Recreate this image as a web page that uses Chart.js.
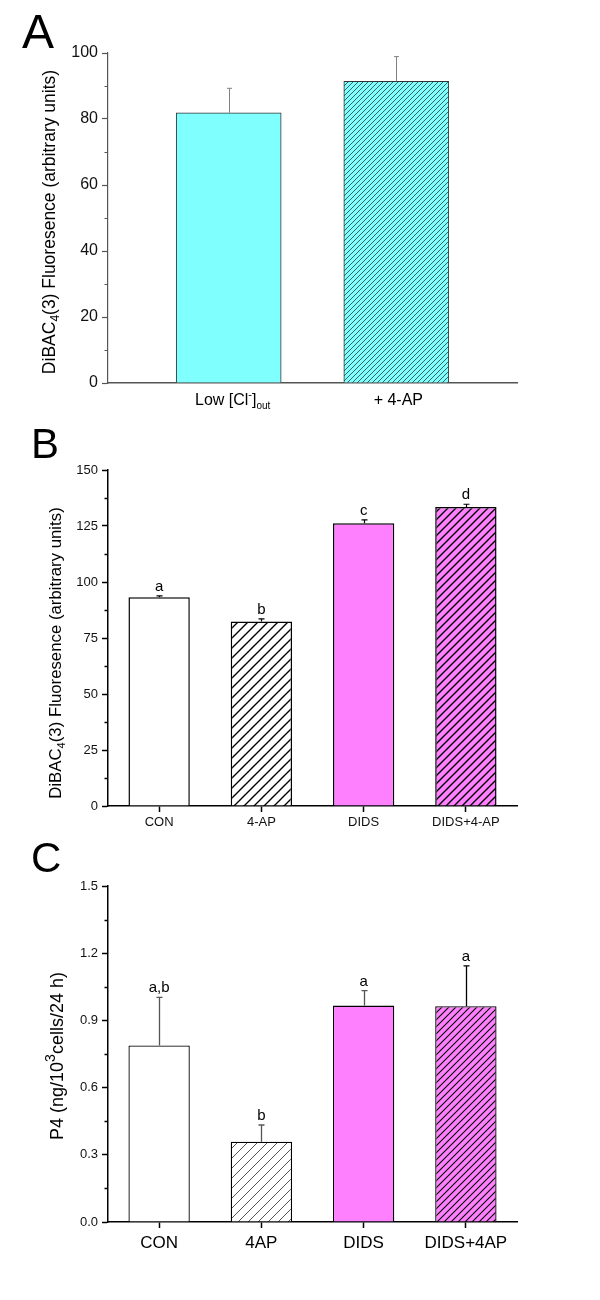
<!DOCTYPE html>
<html>
<head>
<meta charset="utf-8">
<script src="https://cdn.jsdelivr.net/npm/chart.js@4.4.1/dist/chart.umd.min.js"></script>
<style>
  body { margin: 0; background: #fff; width: 600px; height: 1300px; position: relative; overflow: hidden; }
  canvas { position: absolute; left: 0; }
</style>
</head>
<body>
<canvas id="chartA" width="600" height="420" style="top:0px"></canvas>
<canvas id="chartB" width="600" height="420" style="top:420px"></canvas>
<canvas id="chartC" width="600" height="460" style="top:840px"></canvas>
<script>
const FONT = "'Liberation Sans', Arial, sans-serif";
Chart.defaults.font.family = FONT;
Chart.defaults.animation = false;

// panel A : membrane potential, low chloride
const aLabels = ["Low [Cl-]out", "+ 4-AP"];
const aValues = [81.9, 91.4];
const aErrors = [7.4, 7.5];
const aTicks = [0, 20, 40, 60, 80, 100];

// panel B : DiBAC4(3) fluorescence
const bLabels = ["CON", "4-AP", "DIDS", "DIDS+4-AP"];
const bValues = [93.2, 82.4, 126.2, 133.5];
const bErrors = [0.6, 1.1, 1.5, 1.2];
const bLetters = ["a", "b", "c", "d"];
const bTicks = [0, 25, 50, 75, 100, 125, 150];

// panel C : P4 production
const cLabels = ["CON", "4AP", "DIDS", "DIDS+4AP"];
const cValues = [0.788, 0.358, 0.966, 0.963];
const cErrors = [0.215, 0.075, 0.067, 0.18];
const cLetters = ["a,b", "b", "a", "a"];
const cTicks = [0, 0.3, 0.6, 0.9, 1.2, 1.5];

const cyan = "#80ffff";
const pink = "#ff80ff";

function fontStr(size) {
  return size + "px " + FONT;
}

// diagonal "/" hatch fill
function hatch(bg, line, gap, width) {
  const c = document.createElement("canvas");
  c.width = gap;
  c.height = gap;
  const g = c.getContext("2d");
  g.fillStyle = bg;
  g.fillRect(0, 0, gap, gap);
  g.strokeStyle = line;
  g.lineWidth = width;
  g.beginPath();
  g.moveTo(-gap, gap * 2); g.lineTo(gap * 2, -gap);
  g.moveTo(-gap, gap); g.lineTo(gap, -gap);
  g.moveTo(0, gap * 2); g.lineTo(gap * 2, 0);
  g.stroke();
  return g.createPattern(c, "repeat");
}

// text built from pieces (sub / superscripts), centred on x, baseline y
function richText(ctx, parts, x, y, angle) {
  ctx.save();
  ctx.translate(x, y);
  ctx.rotate(angle || 0);
  ctx.fillStyle = "#000";
  ctx.textAlign = "left";
  ctx.textBaseline = "alphabetic";
  let total = 0;
  parts.forEach((p) => {
    ctx.font = fontStr(p.size);
    p.w = ctx.measureText(p.t).width;
    total += p.w;
  });
  let cx = -total / 2;
  parts.forEach((p) => {
    ctx.font = fontStr(p.size);
    ctx.fillText(p.t, cx, p.dy || 0);
    cx += p.w;
  });
  ctx.restore();
}

function valueOf(d) {
  return typeof d === "object" ? d.y : d;
}

function errorBars(chart, errors, colors, cap, width) {
  const ctx = chart.ctx;
  const ys = chart.scales.y;
  const data = chart.data.datasets[0].data;
  ctx.save();
  ctx.lineWidth = width;
  chart.getDatasetMeta(0).data.forEach((bar, i) => {
    const top = ys.getPixelForValue(valueOf(data[i]) + errors[i]);
    const x = Math.round(bar.x) + 0.5;
    ctx.strokeStyle = colors[i];
    ctx.beginPath();
    ctx.moveTo(x, bar.y);
    ctx.lineTo(x, top);
    ctx.moveTo(x - cap, top);
    ctx.lineTo(x + cap, top);
    ctx.stroke();
  });
  ctx.restore();
}

function letters(chart, errors, marks, size) {
  const ctx = chart.ctx;
  const ys = chart.scales.y;
  const data = chart.data.datasets[0].data;
  ctx.save();
  ctx.fillStyle = "#000";
  ctx.font = fontStr(size);
  ctx.textAlign = "center";
  ctx.textBaseline = "alphabetic";
  chart.getDatasetMeta(0).data.forEach((bar, i) => {
    const top = ys.getPixelForValue(valueOf(data[i]) + errors[i]);
    ctx.fillText(marks[i], bar.x, top - 5);
  });
  ctx.restore();
}

function minorTicks(chart, ticks, len, color, width) {
  const ctx = chart.ctx;
  const ys = chart.scales.y;
  const x0 = chart.chartArea.left;
  ctx.save();
  ctx.strokeStyle = color;
  ctx.lineWidth = width;
  ctx.beginPath();
  for (let i = 0; i < ticks.length - 1; i++) {
    const y = Math.round(ys.getPixelForValue((ticks[i] + ticks[i + 1]) / 2)) + 0.5;
    ctx.moveTo(x0 - len, y);
    ctx.lineTo(x0, y);
  }
  ctx.stroke();
  ctx.restore();
}

function panelLetter(chart, text, size, x, y) {
  const ctx = chart.ctx;
  ctx.save();
  ctx.fillStyle = "#000";
  ctx.font = fontStr(size);
  ctx.textBaseline = "alphabetic";
  ctx.fillText(text, x, y);
  ctx.restore();
}

function yAxis(ticks, color, fontSize, width, fmt) {
  return {
    min: ticks[0],
    max: ticks[ticks.length - 1],
    ticks: {
      stepSize: ticks[1] - ticks[0],
      color: "#111",
      font: { size: fontSize },
      padding: 4,
      callback: fmt || ((v) => v),
    },
    grid: { drawOnChartArea: false, tickLength: 6, color: color, tickWidth: width },
    border: { color: color, width: width },
    afterFit: (s) => { s.width = 108; },
  };
}

const basePlugins = { legend: { display: false }, tooltip: { enabled: false } };

// ---------- A ----------
new Chart(document.getElementById("chartA"), {
  type: "bar",
  data: {
    datasets: [{
      data: aValues.map((v, i) => ({ x: i, y: v })),
      backgroundColor: [cyan, hatch(cyan, "#2a3a3a", 5, 0.8)],
      borderColor: "#333",
      borderWidth: 1,
      barThickness: 105,
    }],
  },
  options: {
    responsive: false,
    layout: { padding: { top: 53, right: 83, left: 0, bottom: 0 } },
    plugins: basePlugins,
    scales: {
      x: {
        type: "linear",
        offset: false,
        min: -0.72,
        max: 1.72,
        ticks: { display: false },
        grid: { display: false },
        border: { color: "#555", width: 1.5 },
        afterFit: (s) => { s.height = 37; },
      },
      y: yAxis(aTicks, "#555", 16, 1.2),
    },
  },
  plugins: [{
    id: "decorA",
    afterDatasetsDraw(chart) {
      errorBars(chart, aErrors, ["#808080", "#808080"], 2.5, 1);
    },
    afterDraw(chart) {
      minorTicks(chart, aTicks, 3.5, "#555", 1.2);
      const xs = chart.scales.x;
      richText(chart.ctx, [
        { t: "Low [Cl", size: 16 },
        { t: "-", size: 11, dy: -7 },
        { t: "]", size: 16 },
        { t: "out", size: 10, dy: 4 },
      ], xs.getPixelForValue(0) + 4, 405);
      richText(chart.ctx, [{ t: aLabels[1], size: 16 }], xs.getPixelForValue(1) + 2, 405);
      richText(chart.ctx, [
        { t: "DiBAC", size: 17.5 },
        { t: "4", size: 12, dy: 4 },
        { t: "(3) Fluoresence (arbitrary units)", size: 17.5 },
      ], 55, 222, -Math.PI / 2);
      panelLetter(chart, "A", 48, 22, 48);
    },
  }],
});

// ---------- B ----------
new Chart(document.getElementById("chartB"), {
  type: "bar",
  data: {
    labels: bLabels,
    datasets: [{
      data: bValues,
      backgroundColor: ["#fff", hatch("#fff", "#000", 10, 1.4), pink, hatch(pink, "#000", 8, 1.4)],
      borderColor: "#000",
      borderWidth: 1.5,
      barPercentage: 0.6,
      categoryPercentage: 1,
    }],
  },
  options: {
    responsive: false,
    layout: { padding: { top: 50, right: 83, left: 0, bottom: 0 } },
    plugins: basePlugins,
    scales: {
      x: {
        ticks: { color: "#111", font: { size: 13 }, padding: 3 },
        grid: { offset: false, drawOnChartArea: false, tickLength: 6, color: "#000", tickWidth: 1.5 },
        border: { color: "#000", width: 1.5 },
        afterFit: (s) => { s.height = 34; },
      },
      y: yAxis(bTicks, "#000", 13, 1.5),
    },
  },
  plugins: [{
    id: "decorB",
    afterDatasetsDraw(chart) {
      errorBars(chart, bErrors, ["#000", "#000", "#000", "#000"], 3, 1.2);
      letters(chart, bErrors, bLetters, 15);
    },
    afterDraw(chart) {
      minorTicks(chart, bTicks, 3.5, "#000", 1.5);
      richText(chart.ctx, [
        { t: "DiBAC", size: 16.8 },
        { t: "4", size: 11, dy: 4 },
        { t: "(3) Fluoresence (arbitrary units)", size: 16.8 },
      ], 61, 233, -Math.PI / 2);
      panelLetter(chart, "B", 42, 31, 38);
    },
  }],
});

// ---------- C ----------
new Chart(document.getElementById("chartC"), {
  type: "bar",
  data: {
    labels: cLabels,
    datasets: [{
      data: cValues,
      backgroundColor: ["#fff", hatch("#fff", "#555", 10, 1), pink, hatch(pink, "#000", 7, 1.1)],
      borderColor: "#000",
      borderWidth: 1.3,
      barPercentage: 0.6,
      categoryPercentage: 1,
    }],
  },
  options: {
    responsive: false,
    layout: { padding: { top: 46, right: 83, left: 0, bottom: 0 } },
    plugins: basePlugins,
    scales: {
      x: {
        ticks: { color: "#000", font: { size: 17 }, padding: 5 },
        grid: { offset: false, drawOnChartArea: false, tickLength: 6, color: "#000", tickWidth: 1.5 },
        border: { color: "#000", width: 1.5 },
        afterFit: (s) => { s.height = 78; },
      },
      y: yAxis(cTicks, "#000", 13, 1.5, (v) => v.toFixed(1)),
    },
  },
  plugins: [{
    id: "decorC",
    afterDatasetsDraw(chart) {
      errorBars(chart, cErrors, ["#555", "#555", "#555", "#000"], 3, 1.3);
      letters(chart, cErrors, cLetters, 15);
    },
    afterDraw(chart) {
      minorTicks(chart, cTicks, 3.5, "#000", 1.5);
      richText(chart.ctx, [
        { t: "P4 (ng/10", size: 18 },
        { t: "3", size: 14, dy: -8 },
        { t: "cells/24 h)", size: 18 },
      ], 63, 216, -Math.PI / 2);
      panelLetter(chart, "C", 42, 31, 32);
    },
  }],
});
</script>
</body>
</html>
